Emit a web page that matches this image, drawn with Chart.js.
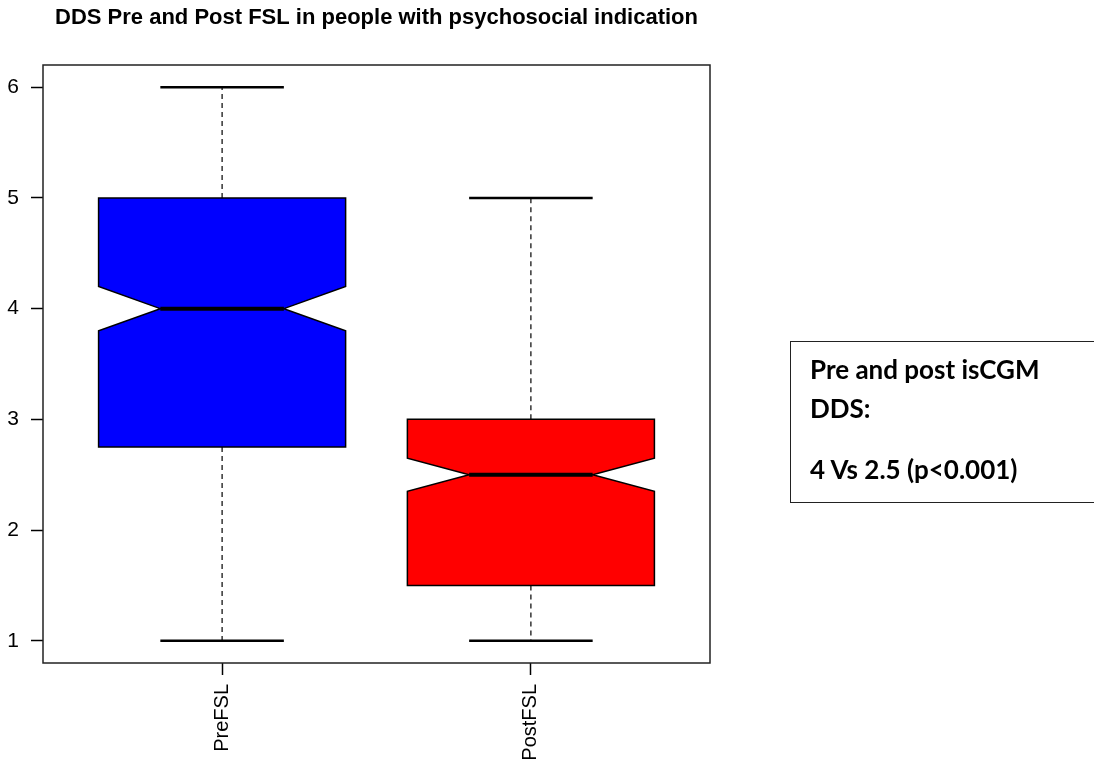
<!DOCTYPE html>
<html>
<head>
<meta charset="utf-8">
<script src="https://cdn.jsdelivr.net/npm/chart.js@4.4.1/dist/chart.umd.min.js"></script>
<style>
  body { margin: 0; background: #fff; }
  #wrap { position: relative; width: 1094px; height: 760px; }
  #note {
    position: absolute; left: 790px; top: 341px; width: 320px; height: 162px;
    border: 1.5px solid #222; box-sizing: border-box;
    font-family: Lato, "Open Sans", sans-serif; font-weight: bold; font-size: 26px; color: #000;
  }
  #note div { position: absolute; left: 19px; white-space: nowrap; line-height: 31px; }
</style>
</head>
<body>
<div id="wrap">
  <canvas id="myChart" width="1094" height="760"></canvas>
  <div id="note">
    <div style="top:12px">Pre and post isCGM</div>
    <div style="top:51px">DDS:</div>
    <div style="top:112px">4 Vs 2.5 (p&lt;0.001)</div>
  </div>
</div>
<script>
// box plot summary
const groups = ['PreFSL', 'PostFSL'];
const mins = [1, 1];
const q1s = [2.75, 1.5];
const medians = [4, 2.5];
const q3s = [5, 3];
const maxs = [6, 5];
const notchLo = [3.8, 2.35];
const notchHi = [4.2, 2.65];
const colors = ['#0000ff', '#ff0000'];
const yTicks = [1, 2, 3, 4, 5, 6];

const boxHalf = 0.4, notchHalf = 0.2, capHalf = 0.2;

const boxPlugin = {
  id: 'boxes',
  beforeDatasetsDraw(chart) {
    const ctx = chart.ctx;
    const xs = chart.scales.x, ys = chart.scales.y;
    const X = v => xs.getPixelForValue(v);
    const Y = v => ys.getPixelForValue(v);
    ctx.save();
    groups.forEach((g, i) => {
      const c = i + 1;
      // whiskers
      ctx.strokeStyle = '#000';
      ctx.lineWidth = 1.2;
      ctx.setLineDash([5, 4]);
      ctx.beginPath();
      ctx.moveTo(X(c), Y(q3s[i])); ctx.lineTo(X(c), Y(maxs[i]));
      ctx.moveTo(X(c), Y(q1s[i])); ctx.lineTo(X(c), Y(mins[i]));
      ctx.stroke();
      ctx.setLineDash([]);
      ctx.lineWidth = 2.5;
      ctx.beginPath();
      ctx.moveTo(X(c - capHalf), Y(maxs[i])); ctx.lineTo(X(c + capHalf), Y(maxs[i]));
      ctx.moveTo(X(c - capHalf), Y(mins[i])); ctx.lineTo(X(c + capHalf), Y(mins[i]));
      ctx.stroke();
      // notched box
      const pts = [
        [c - boxHalf, q1s[i]], [c - boxHalf, notchLo[i]], [c - notchHalf, medians[i]],
        [c - boxHalf, notchHi[i]], [c - boxHalf, q3s[i]], [c + boxHalf, q3s[i]],
        [c + boxHalf, notchHi[i]], [c + notchHalf, medians[i]], [c + boxHalf, notchLo[i]],
        [c + boxHalf, q1s[i]]
      ];
      ctx.beginPath();
      pts.forEach((p, k) => k ? ctx.lineTo(X(p[0]), Y(p[1])) : ctx.moveTo(X(p[0]), Y(p[1])));
      ctx.closePath();
      ctx.fillStyle = colors[i];
      ctx.fill();
      ctx.lineWidth = 1.5;
      ctx.stroke();
      // median
      ctx.lineWidth = 4;
      ctx.beginPath();
      ctx.moveTo(X(c - notchHalf), Y(medians[i])); ctx.lineTo(X(c + notchHalf), Y(medians[i]));
      ctx.stroke();
    });
    // frame
    const a = chart.chartArea;
    ctx.lineWidth = 1.5;
    ctx.strokeStyle = '#222';
    ctx.strokeRect(a.left, a.top, a.right - a.left, a.bottom - a.top);
    ctx.restore();
  }
};

const ctx = document.getElementById('myChart').getContext('2d');
const chart = new Chart(ctx, {
  type: 'scatter',
  data: { datasets: [{ data: [] }] },
  options: {
    responsive: false,
    animation: false,
    layout: { padding: { left: 0, right: 384, top: 0, bottom: 0 } },
    plugins: {
      legend: { display: false },
      tooltip: { enabled: false },
      title: {
        display: true,
        fullSize: false,
        text: 'DDS Pre and Post FSL in people with psychosocial indication',
        color: '#000',
        font: { family: '"Liberation Sans", Arial, sans-serif', size: 22, weight: 'bold', lineHeight: 1.2 },
        padding: { top: 5, bottom: 33.6 }
      }
    },
    scales: {
      x: {
        type: 'linear',
        min: 0.42,
        max: 2.58,
        afterFit(s) { s.height = 97; },
        afterBuildTicks(s) { s.ticks = groups.map((g, i) => ({ value: i + 1 })); },
        ticks: {
          callback: v => groups[v - 1],
          minRotation: 90, maxRotation: 90,
          padding: 9,
          color: '#000',
          font: { family: '"Liberation Sans", Arial, sans-serif', size: 20 }
        },
        grid: { drawOnChartArea: false, drawTicks: true, tickLength: 12, tickColor: '#000', tickWidth: 1.5 },
        border: { display: false }
      },
      y: {
        min: 0.8,
        max: 6.2,
        afterFit(s) { s.width = 43; },
        afterBuildTicks(s) { s.ticks = yTicks.map(v => ({ value: v })); },
        ticks: {
          padding: 12,
          color: '#000',
          font: { family: '"Liberation Sans", Arial, sans-serif', size: 21 }
        },
        grid: { drawOnChartArea: false, drawTicks: true, tickLength: 12, tickColor: '#000', tickWidth: 1.5 },
        border: { display: false }
      }
    }
  },
  plugins: [boxPlugin]
});
</script>
</body>
</html>
